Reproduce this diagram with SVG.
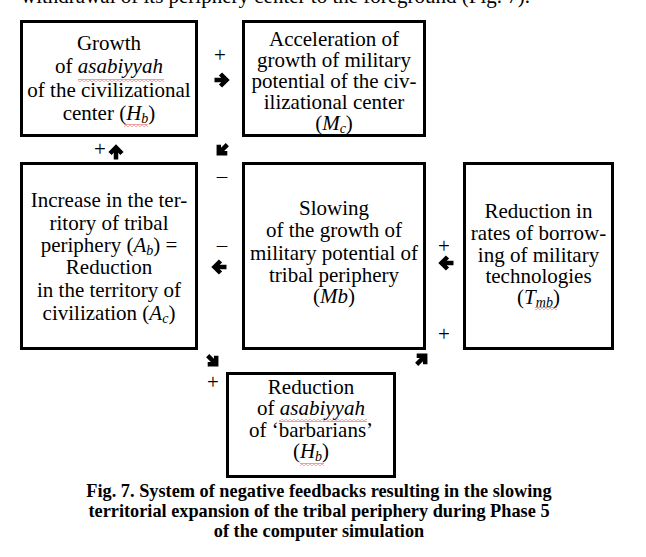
<svg xmlns="http://www.w3.org/2000/svg" width="646" height="557" viewBox="0 0 646 557">
<style>
.box{fill:#fff;stroke:#000;stroke-width:3}
.t{font-family:"Liberation Serif","Times New Roman",serif;font-size:21px;fill:#000;text-anchor:middle}
.i{font-style:italic}
.sub{font-size:14px}
.cap{font-family:"Liberation Serif","Times New Roman",serif;font-size:18.3px;font-weight:bold;fill:#000;text-anchor:middle}
.sq{fill:url(#wavy)}
.a{stroke:#000;stroke-width:4.5;fill:none;stroke-linejoin:miter}
</style>
<defs>
<pattern id="wavy" width="4" height="3" patternUnits="userSpaceOnUse">
<path d="M0,0.6 L2,2.4 L4,0.6" stroke="#d22" stroke-width="0.8" fill="none"/>
</pattern>
<g id="arr">
<path class="a" d="M-7.5,0 H4"/>
<path class="a" d="M-1.5,-6 L4.5,0 L-1.5,6"/>
</g>
</defs>
<rect width="646" height="557" fill="#fff"/>
<text class="t" x="21" y="2.5" style="text-anchor:start">withdrawal of its periphery center to the foreground (Fig. 7).</text>

<g id="connectors">
<use href="#arr" transform="translate(222,80)"/>
<use href="#arr" transform="translate(116,152) rotate(-90)"/>
<use href="#arr" transform="translate(222,150) rotate(135)"/>
<use href="#arr" transform="translate(219,267) rotate(180)"/>
<use href="#arr" transform="translate(446,263) rotate(180)"/>
<use href="#arr" transform="translate(213,361) rotate(45)"/>
<use href="#arr" transform="translate(422,359) rotate(-45)"/>
<text class="t" x="220" y="62">+</text>
<text class="t" x="100" y="156">+</text>
<text class="t" x="222" y="183">–</text>
<text class="t" x="222" y="252">–</text>
<text class="t" x="444" y="253">+</text>
<text class="t" x="444" y="341">+</text>
<text class="t" x="213" y="389">+</text>
</g>

<g id="n1">
<rect class="box" x="21.5" y="21.5" width="175" height="114"/>
<text class="t" x="109" y="50">Growth</text>
<text class="t" x="109" y="73">of <tspan class="i">asabiyyah</tspan></text>
<text class="t" x="109" y="97">of the civilizational</text>
<text class="t" x="109" y="120">center (<tspan class="i">H</tspan><tspan class="sub i" dy="3">b</tspan><tspan dy="-3">)</tspan></text>
<rect class="sq" x="78" y="79" width="86" height="3"/>
<rect class="sq" x="124" y="124" width="24" height="3"/>
</g>

<g id="n2">
<rect class="box" x="243.5" y="21.5" width="181" height="114"/>
<text class="t" x="334" y="46">Acceleration of</text>
<text class="t" x="334" y="67">growth of military</text>
<text class="t" x="334" y="88">potential of the civ-</text>
<text class="t" x="334" y="109">ilizational center</text>
<text class="t" x="334" y="130">(<tspan class="i">M</tspan><tspan class="sub i" dy="3">c</tspan><tspan dy="-3">)</tspan></text>
</g>

<g id="n3">
<rect class="box" x="21.5" y="163.5" width="175" height="185"/>
<text class="t" x="109" y="207">Increase in the ter-</text>
<text class="t" x="109" y="230">ritory of tribal</text>
<text class="t" x="109" y="252">periphery (<tspan class="i">A</tspan><tspan class="sub i" dy="3">b</tspan><tspan dy="-3">) =</tspan></text>
<text class="t" x="109" y="274">Reduction</text>
<text class="t" x="109" y="297">in the territory of</text>
<text class="t" x="109" y="320">civilization (<tspan class="i">A</tspan><tspan class="sub i" dy="3">c</tspan><tspan dy="-3">)</tspan></text>
</g>

<g id="n4">
<rect class="box" x="243.5" y="163.5" width="181" height="185"/>
<text class="t" x="334" y="215">Slowing</text>
<text class="t" x="334" y="237">of the growth of</text>
<text class="t" x="334" y="260">military potential of</text>
<text class="t" x="334" y="282">tribal periphery</text>
<text class="t" x="334" y="303">(<tspan class="i">Mb</tspan>)</text>
</g>

<g id="n5">
<rect class="box" x="464.5" y="163.5" width="148" height="185"/>
<text class="t" x="538.5" y="218">Reduction in</text>
<text class="t" x="538.5" y="240">rates of borrow-</text>
<text class="t" x="538.5" y="262">ing of military</text>
<text class="t" x="538.5" y="283">technologies</text>
<text class="t" x="538.5" y="304">(<tspan class="i">T</tspan><tspan class="sub i" dy="3">mb</tspan><tspan dy="-3">)</tspan></text>
<rect class="sq" x="535" y="307" width="22" height="3"/>
</g>

<g id="n6">
<rect class="box" x="227.5" y="373.5" width="167" height="103"/>
<text class="t" x="311" y="394">Reduction</text>
<text class="t" x="311" y="415">of <tspan class="i">asabiyyah</tspan></text>
<text class="t" x="311" y="437">of ‘barbarians’</text>
<text class="t" x="311" y="458">(<tspan class="i">H</tspan><tspan class="sub i" dy="3">b</tspan><tspan dy="-3">)</tspan></text>
<rect class="sq" x="279" y="419" width="88" height="3"/>
<rect class="sq" x="300" y="463" width="24" height="3"/>
</g>

<g id="caption">
<text class="cap" x="319" y="497">Fig. 7. System of negative feedbacks resulting in the slowing</text>
<text class="cap" x="319" y="517">territorial expansion of the tribal periphery during Phase 5</text>
<text class="cap" x="319" y="537">of the computer simulation</text>
</g>
</svg>
